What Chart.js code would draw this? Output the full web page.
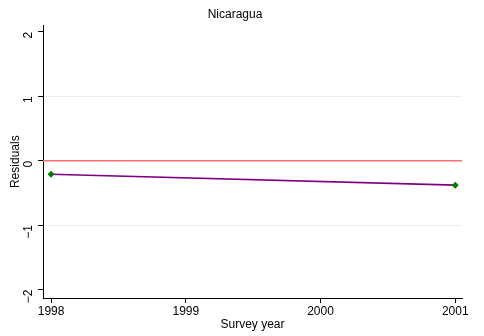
<!DOCTYPE html>
<html><head><meta charset="utf-8">
<script src="https://cdn.jsdelivr.net/npm/chart.js@4"></script>
<style>html,body{margin:0;padding:0;background:#fff}#w{width:484px;height:336px}</style>
</head><body><div id="w"><canvas id="c"></canvas></div>
<script>
const years = [1998, 2001];
const residuals = [-0.21, -0.38];
const yTicks = [-2, -1, 0, 1, 2];
const xTicks = [1998, 1999, 2000, 2001];
const titleText = 'Nicaragua';
const xTitle = 'Survey year';
const yTitle = 'Residuals';

const FONT = "'Liberation Sans', Arial, sans-serif";
Chart.defaults.font.family = FONT;
Chart.defaults.font.size = 12;
Chart.defaults.color = '#000';

new Chart(document.getElementById('c'), {
  type: 'line',
  data: {
    datasets: [
      {
        data: [{x: 1997.94, y: 0}, {x: 2001.05, y: 0}],
        borderColor: '#ff6e6e', borderWidth: 1.5, pointRadius: 0, fill: false
      },
      {
        data: years.map((y, i) => ({x: y, y: residuals[i]})),
        borderColor: '#800080', borderWidth: 1.7,
        pointStyle: 'rectRot', pointRadius: 3.5, pointBackgroundColor: '#008000',
        pointBorderColor: '#008000', pointBorderWidth: 0, fill: false
      }
    ]
  },
  options: {
    responsive: true, maintainAspectRatio: false, animation: false,
    layout: {padding: {left: 8, right: 22, top: 0, bottom: 0}},
    plugins: {
      legend: {display: false}, tooltip: {enabled: false},
      title: {display: true, text: titleText, font: {size: 12, weight: 'normal'}, color: '#000',
              padding: {top: 7, bottom: 4}}
    },
    scales: {
      x: {
        type: 'linear', min: 1997.94, max: 2001.05,
        afterBuildTicks: s => { s.ticks = xTicks.map(v => ({value: v})); },
        afterFit: s => { s.height = 38; },
        ticks: {callback: v => String(v), maxRotation: 0, padding: 1, font: {size: 12}},
        grid: {drawOnChartArea: false, tickLength: 5, tickColor: '#000'},
        border: {display: true, color: '#000', width: 1},
        title: {display: true, text: xTitle, font: {size: 12}, padding: {top: 0, bottom: 4}}
      },
      y: {
        type: 'linear', min: -2.13, max: 2.1,
        afterBuildTicks: s => { s.ticks = yTicks.map(v => ({value: v})); },
        afterFit: s => { s.width = 35; },
        ticks: {callback: v => (v < 0 ? '\u2212' + Math.abs(v) : String(v)), minRotation: 90, maxRotation: 90, padding: 9, font: {size: 12}},
        grid: {
          color: c => (c.tick && Math.abs(c.tick.value) === 1) ? '#e6eeee' : 'rgba(0,0,0,0)',
          tickLength: 5, tickColor: '#000', drawTicks: true
        },
        border: {display: true, color: '#000', width: 1},
        title: {display: true, text: yTitle, font: {size: 12}, padding: {top: 0, bottom: 0}}
      }
    }
  }
});
</script>
</body></html>
